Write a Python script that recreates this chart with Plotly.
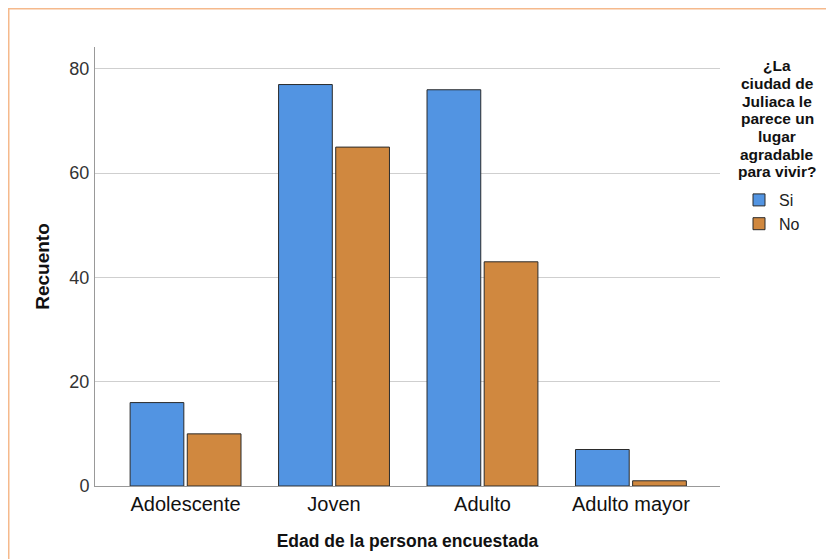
import plotly.graph_objects as go

categorias = ["Adolescente", "Joven", "Adulto", "Adulto mayor"]
si = [16, 77, 76, 7]
no = [10, 65, 43, 1]

titulo_leyenda = ["¿La", "ciudad de", "Juliaca le", "parece un", "lugar", "agradable", "para vivir?"]

fig = go.Figure()
fig.add_trace(go.Bar(x=categorias, y=si, name="Si",
                     marker=dict(color="#5294E2", line=dict(color="#2b2b2b", width=1))))
fig.add_trace(go.Bar(x=categorias, y=no, name="No",
                     marker=dict(color="#D0883F", line=dict(color="#2b2b2b", width=1))))

# the page adds an 8px body margin, so work in figure pixels = screen - 8
OFF = 8
L, R, T, B = 95 - OFF, 720 - OFF, 47 - OFF, 486 - OFF
W, H = 834, 559

def px(x):
    return (x - OFF - L) / (R - L)

def py(y):
    return (B - (y - OFF)) / (B - T)

fig.update_layout(
    width=W, height=H,
    margin=dict(l=L, r=W - R, t=T, b=H - B),
    paper_bgcolor="white", plot_bgcolor="white",
    font=dict(family="Liberation Sans, Arial", color="#222"),
    barmode="group", bargap=0.23, bargroupgap=0.06,
    showlegend=True,
    legend=dict(x=px(739), y=py(183), xanchor="left", yanchor="top",
                font=dict(size=16, color="#222"), itemwidth=30,
                tracegroupgap=0, bgcolor="rgba(0,0,0,0)"),
)

fig.update_xaxes(range=[-0.61, 3.6], showline=True, linecolor="#999", linewidth=1,
                 ticks="", tickfont=dict(size=20, color="#111"),
                 title=dict(text="<b>Edad de la persona encuestada</b>",
                            font=dict(size=17.5, color="#111"), standoff=20))
fig.update_yaxes(range=[0, 84.2], showline=True, linecolor="#999", linewidth=1,
                 showgrid=True, gridcolor="#cfcfcf", gridwidth=1,
                 tickvals=[0, 20, 40, 60, 80], ticks="", ticklabelstandoff=1,
                 tickfont=dict(size=18, color="#333"), zeroline=False,
                 title=dict(text="<b>Recuento</b>", font=dict(size=19, color="#111"), standoff=14))

# legend title, one line at a time to keep the tight spacing
for i, linea in enumerate(titulo_leyenda):
    fig.add_annotation(xref="paper", yref="paper", x=px(777), y=py(66 + 17.6 * i),
                       xanchor="center", yanchor="middle", text="<b>" + linea + "</b>",
                       showarrow=False, font=dict(size=15.5, color="#111"))

# light orange frame around the chart
fig.add_shape(type="rect", xref="paper", yref="paper",
              x0=px(OFF), x1=px(860), y0=py(590), y1=py(OFF),
              line=dict(color="#F5B98C", width=3), fillcolor="rgba(0,0,0,0)", layer="below")

fig.write_html("out.html")
